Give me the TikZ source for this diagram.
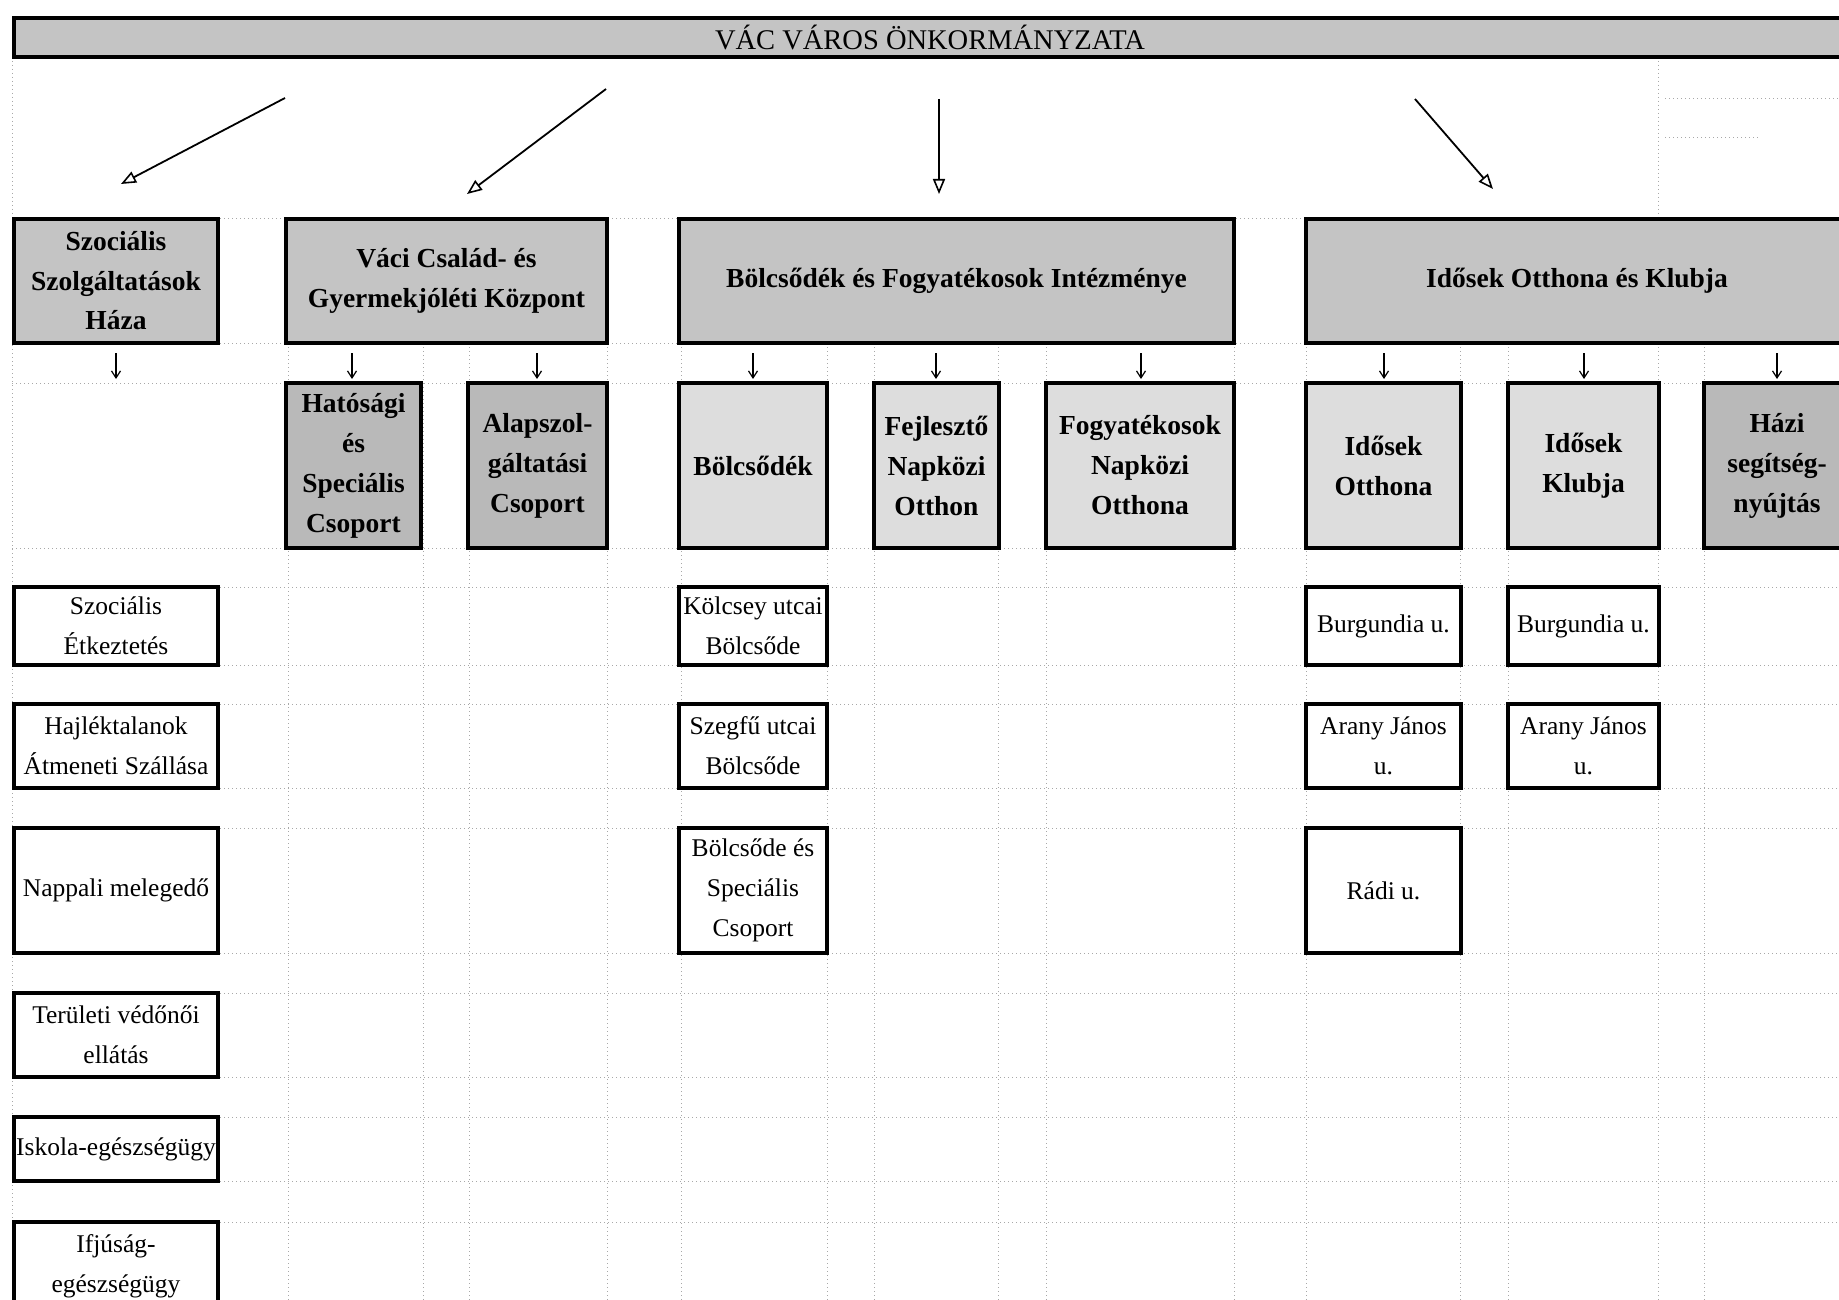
\documentclass[tikz,border=0pt]{standalone}
\usepackage{fontspec}
\setmainfont{Liberation Serif}
\usetikzlibrary{arrows.meta}
\definecolor{midgray}{HTML}{C4C4C4}
\definecolor{darkfill}{HTML}{B9B9B9}
\definecolor{lightfill}{HTML}{DDDDDD}
\definecolor{gridc}{HTML}{A8A8A8}
\begin{document}
\begin{tikzpicture}[x=1pt,y=-1pt,
  box/.style={draw=black, line width=3.2pt, rectangle, inner sep=0pt, align=center},
  banner/.style={box, fill=midgray, font=\fontsize{28.5}{32}\selectfont},
  lvlone/.style={box, fill=midgray, minimum height=124pt, font=\bfseries\fontsize{27.5}{39.5}\selectfont},
  lvltwodark/.style={box, fill=darkfill, minimum height=165pt, font=\bfseries\fontsize{27.5}{40}\selectfont},
  lvltwolight/.style={box, fill=lightfill, minimum height=165pt, font=\bfseries\fontsize{27.5}{40}\selectfont},
  leaf/.style={box, fill=white, font=\fontsize{25.5}{40}\selectfont},
  bigarr/.style={line width=1.8pt, -{Triangle[open, length=15pt, width=12pt, line width=1.6pt]}},
  smallarr/.style={line width=1.4pt, -{Straight Barb[length=7pt, width=9pt, line width=1.2pt]}},
  gridline/.style={draw=gridc, line width=1pt, dash pattern=on 1pt off 3pt}
]
\useasboundingbox (0,0) rectangle (1839,1300);
\fill[white] (0,0) rectangle (1839,1300);
\clip (0,0) rectangle (1839,1300);

% faint dotted grid
\foreach \yy in {219,343,383,548,587,665,704,788,828,953,993,1077,1117,1181,1222}
  \draw[gridline] (12,\yy) -- (1839,\yy);
\foreach \xx in {288,423,469,607,681,827,874,998,1046,1234,1306,1460,1508,1658,1704}
  \draw[gridline] (\xx,343) -- (\xx,1300);
\draw[gridline] (12,57) -- (12,1300);
\draw[gridline] (1658,57) -- (1658,343);
\draw[gridline] (1665,99) -- (1839,99);
\draw[gridline] (1665,138) -- (1760,138);

% banner
\node[banner, minimum width=1832pt, minimum height=39pt] (top) at (930,37.5) {VÁC VÁROS ÖNKORMÁNYZATA};

% level 1
\node[lvlone, minimum width=204pt] (szsz) at (116,281) {Szociális\\Szolgáltatások\\Háza};
\node[lvlone, minimum width=321pt] (vaci) at (446.5,281) {Váci Család- és\\Gyermekjóléti Központ};
\node[lvlone, minimum width=555pt] (bfi) at (956.5,281) {Bölcsődék és Fogyatékosok Intézménye};
\node[lvlone, minimum width=542pt] (iok) at (1577,281) {Idősek Otthona és Klubja};

% big arrows
\coordinate (a1s) at (285,98);   \coordinate (a1e) at (121,184);
\coordinate (a2s) at (606,89);   \coordinate (a2e) at (467,194);
\coordinate (a3s) at (939,99);   \coordinate (a3e) at (939,194);
\coordinate (a4s) at (1415,99);  \coordinate (a4e) at (1493,189);
\draw[bigarr] (a1s) -- (a1e);
\draw[bigarr] (a2s) -- (a2e);
\draw[bigarr] (a3s) -- (a3e);
\draw[bigarr] (a4s) -- (a4e);

% level 2
\node[lvltwodark, minimum width=135pt] (hat) at (353.5,465.5) {Hatósági\\és\\Speciális\\Csoport};
\node[lvltwodark, minimum width=139pt] (alap) at (537.5,465.5) {Alapszol-\\gáltatási\\Csoport};
\node[lvltwolight, minimum width=148pt] (bolcs) at (753,465.5) {Bölcsődék};
\node[lvltwolight, minimum width=125pt] (fejl) at (936.5,465.5) {Fejlesztő\\Napközi\\Otthon};
\node[lvltwolight, minimum width=188pt] (fogy) at (1140,465.5) {Fogyatékosok\\Napközi\\Otthona};
\node[lvltwolight, minimum width=155pt] (ioth) at (1383.5,465.5) {Idősek\\Otthona};
\node[lvltwolight, minimum width=151pt] (iklub) at (1583.5,465.5) {Idősek\\Klubja};
\node[lvltwodark, minimum width=146pt] (hazi) at (1777,465.5) {Házi\\segítség-\\nyújtás};

% small arrows
\foreach \nm/\xx in {s1/116,s2/352,s3/537,s4/753,s5/936,s6/1141,s7/1384,s8/1584,s9/1777}{
  \coordinate (\nm a) at (\xx,353);
  \coordinate (\nm b) at (\xx,379);
  \draw[smallarr] (\nm a) -- (\nm b);
}

% level 3 - left column
\node[leaf, minimum width=204pt, minimum height=78pt] (etk) at (116,626) {Szociális\\Étkeztetés};
\node[leaf, minimum width=204pt, minimum height=84pt] (hajl) at (116,746) {Hajléktalanok\\Átmeneti Szállása};
\node[leaf, minimum width=204pt, minimum height=125pt] (napp) at (116,890.5) {Nappali melegedő};
\node[leaf, minimum width=204pt, minimum height=84pt] (ter) at (116,1035) {Területi védőnői\\ellátás};
\node[leaf, minimum width=204pt, minimum height=64pt] (isk) at (116,1149) {Iskola-egészségügy};
\node[leaf, minimum width=204pt, minimum height=88pt] (ifj) at (116,1266) {Ifjúság-\\egészségügy};

% level 3 - Bölcsődék column
\node[leaf, minimum width=148pt, minimum height=78pt] (kolcs) at (753,626) {Kölcsey utcai\\Bölcsőde};
\node[leaf, minimum width=148pt, minimum height=84pt] (szegf) at (753,746) {Szegfű utcai\\Bölcsőde};
\node[leaf, minimum width=148pt, minimum height=125pt] (bspec) at (753,890.5) {Bölcsőde és\\Speciális\\Csoport};

% level 3 - Idősek Otthona column
\node[leaf, minimum width=155pt, minimum height=78pt] (burg1) at (1383.5,626) {Burgundia u.};
\node[leaf, minimum width=155pt, minimum height=84pt] (arany1) at (1383.5,746) {Arany János\\u.};
\node[leaf, minimum width=155pt, minimum height=125pt] (radi) at (1383.5,890.5) {Rádi u.};

% level 3 - Idősek Klubja column
\node[leaf, minimum width=151pt, minimum height=78pt] (burg2) at (1583.5,626) {Burgundia u.};
\node[leaf, minimum width=151pt, minimum height=84pt] (arany2) at (1583.5,746) {Arany János\\u.};
\end{tikzpicture}
\end{document}
